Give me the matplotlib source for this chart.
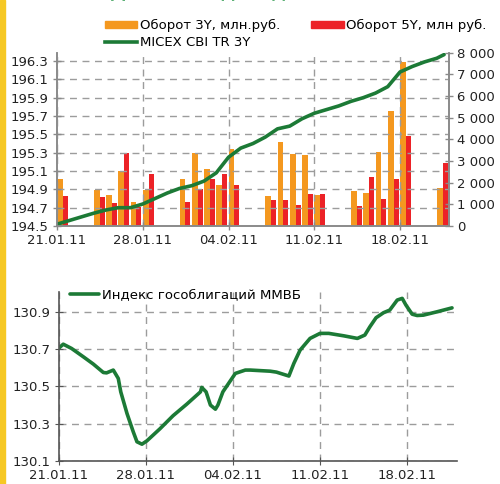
import numpy as np
import pandas as pd
import matplotlib
matplotlib.use("Agg")
import matplotlib.pyplot as plt
from matplotlib.lines import Line2D
from matplotlib.patches import Patch

plt.rcParams['font.family'] = ['DejaVu Sans']

## data
start = pd.Timestamp('2011-01-21')
trade_dates = pd.to_datetime([
    '2011-01-21', '2011-01-24', '2011-01-25', '2011-01-26', '2011-01-27', '2011-01-28',
    '2011-01-31', '2011-02-01', '2011-02-02', '2011-02-03', '2011-02-04',
    '2011-02-07', '2011-02-08', '2011-02-09', '2011-02-10', '2011-02-11',
    '2011-02-14', '2011-02-15', '2011-02-16', '2011-02-17', '2011-02-18',
    '2011-02-21'])
vol_3y = [2190, 1650, 1420, 2530, 1090, 1650, 2190, 3360, 2620, 1880, 3540,
          1370, 3870, 3310, 3270, 1420, 1600, 1510, 3400, 5300, 7570, 1740]
vol_5y = [1370, 1330, 1060, 3360, 880, 2390, 1110, 1690, 2160, 2390, 1880,
          1190, 1190, 960, 1460, 1460, 910, 2250, 1230, 2160, 4140, 2900]

# MICEX CBI TR 3Y, day offset from 21.01.11
cbi_days = [0, 1, 2, 3, 4, 5, 6, 7, 8, 9, 10, 11, 12, 13, 14, 15, 16, 17, 18, 19,
            20, 21, 22, 23, 24, 25, 26, 27, 28, 29, 30, 31, 31.6]
cbi_vals = [194.52, 194.56, 194.60, 194.64, 194.675, 194.70, 194.70, 194.74, 194.80,
            194.86, 194.91, 194.94, 194.99, 195.08, 195.25, 195.35, 195.40, 195.47,
            195.56, 195.59, 195.67, 195.73, 195.77, 195.81, 195.86, 195.90, 195.95,
            196.02, 196.18, 196.24, 196.29, 196.33, 196.37]

# Индекс гособлигаций ММВБ
rgbi_days = [0, 0.38, 1.05, 2.0, 2.8, 3.6, 3.86, 4.4, 4.8, 5.0, 5.5, 6.0, 6.3, 6.7,
             7.1, 8.15, 9.2, 10.3, 11.4, 11.5, 11.85, 12.2, 12.6, 12.8, 13.2, 14.2,
             15.0, 15.4, 17.0, 17.5, 18.5, 18.9, 19.4, 20.2, 21.0, 21.7, 22.9, 24.0,
             24.6, 25.0, 25.5, 26.1, 26.6, 27.2, 27.6, 27.9, 28.4, 28.8, 29.3, 30.4, 31.6]
rgbi_vals = [130.703, 130.726, 130.703, 130.658, 130.619, 130.574, 130.572, 130.587,
             130.542, 130.470, 130.354, 130.256, 130.202, 130.189, 130.207, 130.272,
             130.342, 130.404, 130.470, 130.494, 130.470, 130.399, 130.377, 130.399,
             130.470, 130.569, 130.587, 130.587, 130.581, 130.576, 130.555, 130.623,
             130.694, 130.757, 130.784, 130.784, 130.771, 130.757, 130.775, 130.819,
             130.868, 130.895, 130.909, 130.963, 130.972, 130.936, 130.887, 130.880,
             130.882, 130.900, 130.921]

tick_labels = ['21.01.11', '28.01.11', '04.02.11', '11.02.11', '18.02.11']
tick_days = [(pd.to_datetime(t, dayfirst=True) - start).days for t in tick_labels]

GREEN = '#1c7a36'
ORANGE = '#f4981f'
RED = '#ec2227'
GRID = dict(color='#9c9c9c', linestyle=(0, (5, 4)), linewidth=1)
FS = 9.5

fig = plt.figure(figsize=(5, 4.84), dpi=100)
fig.patches.append(plt.Rectangle((0, 0), 0.009, 1, transform=fig.transFigure,
                                 color='#f6c824', zorder=0))
# title cut off by the top edge, only its lowest pixels are visible
fig.text(0.22, 1 + 3 / 484, 'Динамика доходности', color='#2e9a4e',
         fontsize=13, fontweight='bold', va='baseline')

## top chart: turnover bars + MICEX CBI TR 3Y
ax = fig.add_axes([0.114, 0.533, 0.784, 0.358])
axr = ax.twinx()
ax.set_zorder(axr.get_zorder() + 1)
ax.patch.set_visible(False)

x = (trade_dates - start).days.values
axr.bar(x, vol_3y, width=0.48, align='edge', color=ORANGE)
axr.bar(x + 0.48, vol_5y, width=0.4, align='edge', color=RED)
axr.set_ylim(0, 8000)
axr.set_yticks(np.arange(0, 8001, 1000))
axr.set_yticklabels(['0' if v == 0 else f'{v // 1000} 000' for v in range(0, 8001, 1000)])

ax.plot(cbi_days, cbi_vals, color=GREEN, lw=2.6, solid_capstyle='round')
ax.set_ylim(194.5, 196.39)
ax.set_yticks(np.round(np.arange(194.5, 196.31, 0.2), 1))
ax.set_yticklabels([f'{v:.1f}' for v in np.arange(194.5, 196.31, 0.2)])
ax.set_xlim(0, 32)
ax.set_xticks(tick_days)
ax.set_xticklabels(tick_labels)
ax.grid(True, **GRID)

for a in (ax, axr):
    a.spines['top'].set_visible(False)
    for s in ('left', 'right', 'bottom'):
        a.spines[s].set_color('#8a8a8a')
        a.spines[s].set_linewidth(1.2)
    a.tick_params(labelsize=FS, colors='#222222', direction='inout', length=6,
                  width=1, pad=3)
    a.tick_params(axis='both', color='#8a8a8a')

handles = [Patch(color=ORANGE), Line2D([], [], color=GREEN, lw=2.6), Patch(color=RED)]
labels = ['Оборот 3Y, млн.руб.', 'MICEX CBI TR 3Y', 'Оборот 5Y, млн руб.']
fig.legend(handles, labels, ncol=2, loc='upper left', bbox_to_anchor=(0.209, 0.961),
           frameon=False, fontsize=FS, handlelength=2.5, handleheight=0.5,
           handletextpad=0.2, columnspacing=2.3, labelspacing=0.3,
           borderaxespad=0, borderpad=0)

## bottom chart: RGBI
ax2 = fig.add_axes([0.117, 0.048, 0.797, 0.349])
ax2.plot(rgbi_days, rgbi_vals, color=GREEN, lw=2.6, solid_capstyle='round',
         label='Индекс гособлигаций ММВБ')
ax2.set_ylim(130.1, 131.007)
ax2.set_yticks([130.1, 130.3, 130.5, 130.7, 130.9])
ax2.set_yticklabels(['130.1', '130.3', '130.5', '130.7', '130.9'])
ax2.set_xlim(0, 32)
ax2.set_xticks(tick_days)
ax2.set_xticklabels(tick_labels)
ax2.grid(True, **GRID)
ax2.spines['top'].set_visible(False)
ax2.spines['right'].set_visible(False)
for s in ('left', 'bottom'):
    ax2.spines[s].set_color('#555555')
    ax2.spines[s].set_linewidth(1.2)
ax2.tick_params(labelsize=FS, colors='#222222', direction='inout', length=6, pad=3)
ax2.tick_params(axis='both', color='#555555')
ax2.legend(loc='upper left', bbox_to_anchor=(0.03, 1.02), frameon=False, fontsize=FS,
           handlelength=2.2, handletextpad=0.2, borderaxespad=0, borderpad=0)

fig.savefig('out.png', dpi=100)
